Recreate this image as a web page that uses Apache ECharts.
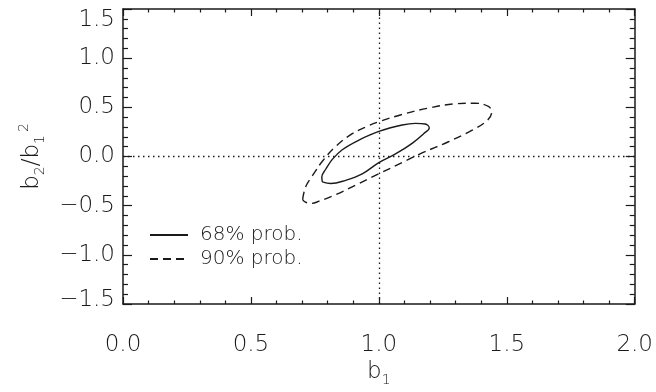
<!DOCTYPE html>
<html>
<head>
<meta charset="utf-8">
<script src="https://cdn.jsdelivr.net/npm/echarts@6/dist/echarts.min.js"></script>
<style>
  html, body { margin: 0; padding: 0; background: #fff; }
  #main { width: 656px; height: 392px; }
</style>
</head>
<body>
<div id="main"></div>
<script>
// axis ranges / ticks
const xRange = [0, 2]
const yRange = [-1.5, 1.5]
const tickStep = 0.5

// 68% contour (solid)
const c68X = [0.779, 0.812, 0.870, 0.935, 1.000, 1.065, 1.130, 1.175, 1.197, 1.181, 1.143, 1.091, 1.000, 0.922, 0.857, 0.818, 0.793, 0.777, 0.779]
const c68Y = [-0.258, -0.275, -0.242, -0.176, -0.062, 0.026, 0.134, 0.232, 0.291, 0.330, 0.337, 0.320, 0.255, 0.167, 0.069, -0.029, -0.127, -0.209, -0.258]

// 90% contour (dashed)
const c90X = [0.702, 0.714, 0.741, 0.780, 0.831, 0.896, 0.961, 1.000, 1.091, 1.195, 1.298, 1.376, 1.428, 1.441, 1.422, 1.363, 1.272, 1.169, 1.091, 1.000, 0.909, 0.831, 0.767, 0.735, 0.713, 0.702]
const c90Y = [-0.438, -0.307, -0.193, -0.046, 0.101, 0.232, 0.314, 0.353, 0.428, 0.493, 0.536, 0.542, 0.510, 0.451, 0.363, 0.265, 0.150, 0.036, -0.062, -0.176, -0.291, -0.389, -0.454, -0.477, -0.464, -0.438]

// dotted reference lines
const refX = [1.0]
const refY = [0.0]

const FONT = 'DejaVu Sans'
const WEIGHT = 200
const INK = '#1a1a1a'

const zip = (xs, ys) => xs.map((x, i) => [x, ys[i]])

const fmtNum = (v) => (v < 0 ? '\u2212' : '') + Math.abs(v).toFixed(1)

const chart = echarts.init(document.getElementById('main'), null, { renderer: 'canvas' })

const txt = (size, extra) => ({ fontFamily: FONT, fontWeight: WEIGHT, fontSize: size, color: INK, ...extra })

const baseAxis = {
  type: 'value',
  splitLine: { show: false },
  nameMoveOverlap: false,
  axisLine: { show: true, onZero: false, lineStyle: { color: INK, width: 1.5 } }
}

const option = {
  animation: false,
  backgroundColor: '#fff',
  grid: { left: 123, right: 19, top: 9, bottom: 77 },
  legend: {
    orient: 'vertical',
    left: 149,
    top: 225,
    padding: 0,
    itemWidth: 38,
    itemHeight: 14,
    itemGap: 4,
    itemStyle: { opacity: 0 },
    textStyle: txt(20, { padding: [0, 0, 0, 7] }),
    data: ['68% prob.', '90% prob.']
  },
  xAxis: [
    {
      ...baseAxis,
      position: 'bottom',
      min: xRange[0],
      max: xRange[1],
      interval: tickStep,
      axisTick: { show: true, inside: true, length: 7, lineStyle: { color: INK, width: 1.2 } },
      minorTick: { show: true, splitNumber: 5, length: 3.5, lineStyle: { color: INK, width: 1.2 } },
      axisLabel: txt(23, { margin: 30, formatter: fmtNum }),
      name: '{b|b}{sub|1}',
      nameLocation: 'middle',
      nameGap: 53,
      nameTextStyle: {
        rich: {
          b: txt(23, { lineHeight: 30, verticalAlign: 'middle' }),
          sub: txt(14, { lineHeight: 14, verticalAlign: 'bottom' })
        }
      }
    },
    {
      ...baseAxis,
      position: 'top',
      min: xRange[0],
      max: xRange[1],
      interval: tickStep,
      axisTick: { show: true, inside: true, length: 7, lineStyle: { color: INK, width: 1.2 } },
      minorTick: { show: true, splitNumber: 5, length: 3.5, lineStyle: { color: INK, width: 1.2 } },
      axisLabel: { show: false }
    }
  ],
  yAxis: [
    {
      ...baseAxis,
      position: 'left',
      min: yRange[0],
      max: yRange[1],
      interval: tickStep,
      axisTick: { show: true, inside: true, length: 9, lineStyle: { color: INK, width: 1.2 } },
      minorTick: { show: true, splitNumber: 5, length: 5, lineStyle: { color: INK, width: 1.2 } },
      axisLabel: txt(23, {
        margin: 8,
        formatter: (v) => {
          if (v === yRange[1]) return '{top|' + fmtNum(v) + '}'
          if (v === yRange[0]) return '{bot|' + fmtNum(v) + '}'
          return fmtNum(v)
        },
        rich: {
          top: txt(23, { padding: [22, 0, 0, 0] }),
          bot: txt(23, { padding: [0, 0, 8, 0] })
        }
      }),
      name: '{b|b}{sub|2}{b|/b}{sub|1}{sup|2}',
      nameLocation: 'middle',
      nameRotate: 90,
      nameGap: 76,
      nameTextStyle: {
        rich: {
          b: txt(23, { lineHeight: 30, verticalAlign: 'middle' }),
          sub: txt(14, { lineHeight: 14, verticalAlign: 'bottom' }),
          sup: txt(14, { lineHeight: 12, verticalAlign: 'top', padding: [0, 0, 0, 3] })
        }
      }
    },
    {
      ...baseAxis,
      position: 'right',
      min: yRange[0],
      max: yRange[1],
      interval: tickStep,
      axisTick: { show: true, inside: true, length: 9, lineStyle: { color: INK, width: 1.2 } },
      minorTick: { show: true, splitNumber: 5, length: 5, lineStyle: { color: INK, width: 1.2 } },
      axisLabel: { show: false }
    }
  ],
  series: [
    {
      name: 'ref',
      type: 'line',
      data: [],
      silent: true,
      markLine: {
        silent: true,
        symbol: 'none',
        label: { show: false },
        lineStyle: { color: INK, width: 1.3, type: [1.5, 3.5] },
        data: [
          ...refX.map((x) => ({ xAxis: x })),
          ...refY.map((y) => ({ yAxis: y }))
        ]
      }
    },
    {
      name: '68% prob.',
      type: 'line',
      data: zip(c68X, c68Y),
      showSymbol: false,
      symbol: 'none',
      smooth: 0.4,
      lineStyle: { color: INK, width: 1.4, type: 'solid' },
      itemStyle: { color: INK }
    },
    {
      name: '90% prob.',
      type: 'line',
      data: zip(c90X, c90Y),
      showSymbol: false,
      symbol: 'none',
      smooth: 0.4,
      lineStyle: { color: INK, width: 1.4, type: [8, 5] },
      itemStyle: { color: INK }
    }
  ]
}

chart.setOption(option)
</script>
</body>
</html>
